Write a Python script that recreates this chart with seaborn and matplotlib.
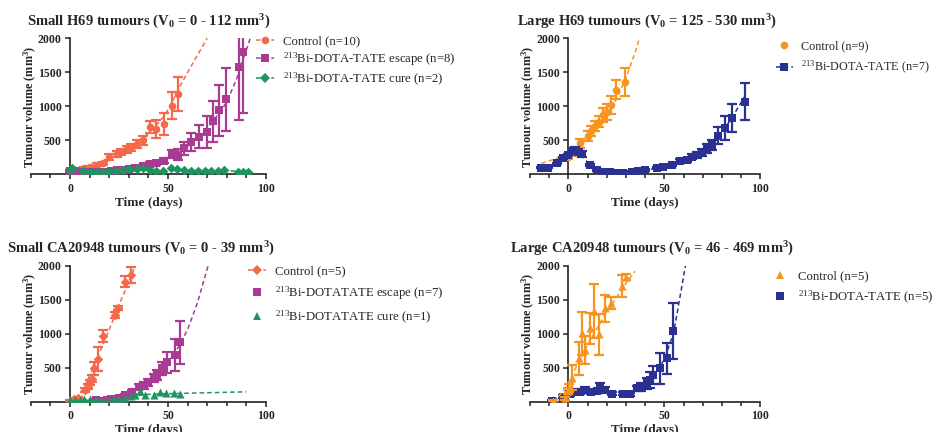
import numpy as np
import matplotlib
matplotlib.use("Agg")
import matplotlib.pyplot as plt
from matplotlib.lines import Line2D
from matplotlib.ticker import MultipleLocator
import seaborn as sns

sns.set_theme(style="ticks")
plt.rcParams["font.family"] = ["Liberation Serif", "DejaVu Serif"]
plt.rcParams["mathtext.fontset"] = "custom"
plt.rcParams["mathtext.rm"] = "Liberation Serif"
plt.rcParams["mathtext.it"] = "Liberation Serif:italic"
plt.rcParams["mathtext.bf"] = "Liberation Serif:bold"

# ---------------- colours ----------------
C_RED = "#F26A4B"
C_MAG = "#A93C92"
C_GRN = "#1F9461"
C_ORA = "#F7941D"
C_NAV = "#2B3192"

# ---------------- Panel 1: Small H69 ----------------
p1_ctrl_days = [0, 3, 7, 10, 14, 17, 20, 24, 26, 29, 31, 34, 37, 41, 44, 48, 52, 55]
p1_ctrl_vals = [60, 70, 90, 110, 140, 160, 255, 300, 330, 365, 400, 450, 500, 700, 670, 740, 1010, 1180]
p1_ctrl_sem = [10, 10, 15, 15, 20, 25, 45, 40, 40, 45, 50, 60, 70, 90, 135, 160, 195, 245]
p1_ctrl_fit_days = [0, 10, 20, 30, 40, 48, 52, 56, 63, 70]
p1_ctrl_fit_vals = [55, 100, 210, 380, 600, 850, 1050, 1290, 1650, 2000]

p1_esc_days = [0, 3, 6, 9, 12, 15, 18, 21, 24, 27, 30, 33, 37, 41, 44, 48, 52, 55, 58, 62, 66, 70, 73, 76, 79.5, 86.4, 88.5]
p1_esc_vals = [50, 45, 40, 40, 35, 35, 40, 50, 60, 70, 85, 100, 120, 150, 170, 200, 300, 290, 380, 475, 550, 620, 780, 940, 1100, 1575, 1795]
p1_esc_sem = [10, 10, 10, 10, 10, 10, 10, 10, 10, 15, 15, 20, 20, 25, 30, 35, 60, 80, 100, 130, 170, 230, 300, 380, 470, 780, 900]
p1_esc_fit_days = [0, 20, 30, 40, 50, 60, 70, 80, 85, 92]
p1_esc_fit_vals = [45, 60, 95, 150, 250, 410, 660, 1060, 1400, 2000]

p1_cure_days = [0, 1, 6.5, 10, 13, 17, 20, 23.6, 27, 30, 34, 37, 40.6, 44, 47.5, 51.7, 54.8, 58, 61.6, 65.4, 68.8, 72, 75.3, 78.7, 86, 88.5, 91]
p1_cure_vals = [64, 95, 54, 40, 40, 40, 49, 54, 64, 74, 78, 88, 64, 54, 54, 88, 74, 64, 54, 54, 49, 54, 54, 64, 40, 40, 40]
p1_cure_fit_days = [0, 50, 92]
p1_cure_fit_vals = [60, 60, 45]

# ---------------- Panel 2: Large H69 ----------------
p2_ctrl_days = [0, 3, 6, 10, 12, 14, 16, 18, 20, 22, 25, 29.5]
p2_ctrl_vals = [250, 320, 455, 565, 640, 710, 775, 870, 920, 1020, 1240, 1360]
p2_ctrl_sem = [30, 40, 70, 70, 70, 80, 80, 100, 120, 130, 140, 210]
p2_ctrl_fit_days = [-14, -7, 0, 5, 10, 15, 20, 25, 30, 35, 37]
p2_ctrl_fit_vals = [160, 225, 300, 400, 525, 670, 860, 1100, 1415, 1810, 2000]

p2_trt_days = [-14, -10.4, -6, -2.6, 0, 1.7, 3.5, 5.2, 7, 11.3, 14.8, 18.2, 21.7, 25.2, 28.6, 33, 36.5, 40, 46, 49.5, 53.8, 58.2, 61.6, 64.2, 66.8, 69.4, 72, 74.7, 78, 81.6, 85, 92]
p2_trt_vals = [98, 98, 160, 235, 285, 350, 358, 333, 300, 137, 64, 40, 30, 25, 25, 40, 50, 64, 98, 113, 137, 200, 210, 260, 284, 318, 382, 431, 570, 680, 828, 1068]
p2_trt_sem = [10, 10, 10, 15, 20, 30, 40, 40, 40, 20, 10, 10, 5, 5, 5, 5, 10, 10, 10, 15, 15, 20, 25, 40, 40, 50, 70, 80, 130, 170, 210, 270]
p2_trt_fit_days = [-14, -10, -6, -2, 2, 5, 8, 11, 15, 20, 25, 30, 35, 40, 45, 50, 55, 60, 65, 70, 75, 80, 85, 92]
p2_trt_fit_vals = [95, 110, 150, 220, 330, 330, 250, 140, 65, 35, 25, 28, 40, 60, 85, 115, 160, 210, 270, 340, 450, 620, 820, 1150]

# ---------------- Panel 3: Small CA20948 ----------------
p3_ctrl_days = [0, 2.2, 4.3, 7.7, 9, 10.2, 11, 12, 14.2, 17, 22.7, 24.7, 28.2, 31.2]
p3_ctrl_vals = [15, 40, 60, 170, 220, 285, 340, 490, 627, 965, 1274, 1380, 1764, 1862]
p3_ctrl_sem = [5, 10, 15, 30, 40, 40, 50, 100, 180, 90, 50, 30, 80, 120]
p3_ctrl_fit_days = [0, 3, 6, 10, 15, 20, 25, 30, 33.3]
p3_ctrl_fit_vals = [0, 20, 150, 380, 720, 1060, 1420, 1770, 2000]

p3_esc_days = [13, 16, 19, 21, 25, 28, 31.6, 35, 37.5, 40, 42.7, 44.4, 47, 49.5, 53.8, 56.3]
p3_esc_vals = [20, 10, 20, 40, 60, 100, 140, 220, 235, 285, 343, 392, 490, 578, 686, 872]
p3_esc_sem = [5, 5, 5, 10, 15, 20, 30, 40, 50, 50, 60, 70, 100, 150, 230, 320]
p3_esc_fit_days = [10, 20, 25, 30, 35, 40, 45, 50, 55, 60, 65, 70.5]
p3_esc_fit_vals = [10, 30, 60, 110, 190, 290, 420, 580, 790, 1060, 1450, 2000]

p3_cure_days = [0, 2.5, 5, 7, 10, 13, 16, 19, 22, 25, 28, 31, 33, 35.8, 38.4, 42.7, 46, 49, 53, 56.3]
p3_cure_vals = [20, 25, 30, 40, 35, 20, 10, 15, 30, 40, 60, 80, 98, 160, 98, 98, 147, 132, 132, 113]
p3_cure_fit_days = [0, 15, 25, 33, 40, 48, 56, 70, 90]
p3_cure_fit_vals = [15, 25, 45, 85, 108, 118, 122, 132, 145]

# ---------------- Panel 4: Large CA20948 ----------------
p4_ctrl_days = [-7.8, -1.7, 0, 0.5, 1.7, 5.7, 6.9, 8.7, 11.3, 13.4, 16.1, 19, 22, 28.1, 30]
p4_ctrl_vals = [15, 49, 157, 206, 353, 637, 1005, 760, 1078, 1333, 990, 1372, 1455, 1705, 1833]
p4_ctrl_sem = [5, 20, 40, 60, 180, 240, 315, 200, 230, 400, 300, 195, 85, 160, 40]
p4_ctrl_fit_days = [-8, -3, 0, 5, 10, 15, 20, 25, 30, 34.7]
p4_ctrl_fit_vals = [0, 140, 280, 560, 830, 1080, 1320, 1530, 1740, 1920]

p4_trt_days = [-8.7, -2.6, 0.9, 3.5, 6, 8.7, 12, 14.8, 16.5, 19, 22.6, 28.6, 32, 35.6, 38, 40.8, 42.5, 44, 47.7, 51.2, 54.7]
p4_trt_vals = [15, 75, 120, 147, 147, 170, 147, 157, 220, 170, 120, 120, 108, 196, 220, 270, 318, 392, 490, 637, 1044]
p4_trt_sem = [5, 20, 40, 40, 30, 40, 30, 30, 60, 40, 20, 20, 20, 40, 60, 80, 120, 130, 230, 230, 410]
p4_trt_fit_days = [-8, -3, 0, 5, 10, 20, 30, 35, 40, 45, 50, 54.7, 57, 61]
p4_trt_fit_vals = [20, 80, 120, 150, 155, 150, 130, 170, 260, 400, 620, 1000, 1350, 2000]

# ---------------- text ----------------
titles = [
    r"Small H69 tumours (V$_\mathbf{0}$ = 0 - 112 mm$^\mathbf{3}$)",
    r"Large H69 tumours (V$_\mathbf{0}$ = 125 - 530 mm$^\mathbf{3}$)",
    r"Small CA20948 tumours (V$_\mathbf{0}$ = 0 - 39 mm$^\mathbf{3}$)",
    r"Large CA20948 tumours (V$_\mathbf{0}$ = 46 - 469 mm$^\mathbf{3}$)",
]
xlabel = "Time (days)"
ylabel = r"Tumour volume (mm$^\mathbf{3}$)"

W, H = 936, 432
fig = plt.figure(figsize=(W / 100, H / 100), dpi=100)

def px_axes(left, top, right, bottom):
    return fig.add_axes([left / W, 1 - bottom / H, (right - left) / W, (bottom - top) / H])

axes = [
    px_axes(30.9, 38.3, 265.9, 174.3),
    px_axes(529.9, 38.3, 760.3, 174.3),
    px_axes(30.9, 265.7, 265.9, 401.7),
    px_axes(529.9, 265.7, 760.3, 401.7),
]

DASH = (0, (3, 2))

def draw_series(ax, days, vals, sem, fit_d, fit_v, color, marker, size, z):
    if fit_d is not None:
        sns.lineplot(x=fit_d, y=fit_v, ax=ax, color=color, lw=1.1, linestyle=DASH,
                     estimator=None, sort=False, zorder=z)
    if sem is not None:
        ax.errorbar(days, vals, yerr=sem, fmt="none", ecolor=color, elinewidth=1.6,
                    capsize=3.5, capthick=1.6, zorder=z + 0.1)
    sns.scatterplot(x=days, y=vals, ax=ax, color=color, marker=marker, s=size,
                    edgecolor=color, linewidth=0, zorder=z + 0.2)

def style_axes(ax, title, title_x):
    ax.set_xlim(-20, 100)
    ax.set_ylim(0, 2000)
    ax.spines["left"].set_position(("data", 0))
    ax.spines["top"].set_visible(False)
    ax.spines["right"].set_visible(False)
    for s in ("left", "bottom"):
        ax.spines[s].set_linewidth(1.2)
        ax.spines[s].set_color("#222222")
    ax.set_xticks([0, 50, 100])
    ax.xaxis.set_minor_locator(MultipleLocator(10))
    ax.set_yticks([500, 1000, 1500, 2000])
    ax.tick_params(axis="both", which="major", direction="out", length=3.5, width=1.1,
                   labelsize=8.5, color="#222222", pad=2.5)
    ax.tick_params(axis="x", which="minor", direction="out", length=3, width=1.1, color="#222222")
    for lbl in ax.get_xticklabels() + ax.get_yticklabels():
        lbl.set_fontweight("bold")
    ax.set_xlabel(xlabel, fontsize=9.5, fontweight="bold", labelpad=1.5)
    ax.set_ylabel(ylabel, fontsize=8.8, fontweight="bold", labelpad=-1)
    ax.set_title(title, fontsize=10.5, fontweight="bold", pad=9, x=title_x)
    ax.grid(False)

def legend(ax, handles, labels, left_px, top_px, spacing, size=9.2):
    ax.legend(handles, labels, loc="upper left",
              bbox_to_anchor=(left_px / W, 1 - top_px / H), bbox_transform=fig.transFigure,
              frameon=False, handlelength=1.4, handletextpad=0.7, borderaxespad=0,
              borderpad=0, labelspacing=spacing, prop={"size": size, "weight": "normal"})

def h(color, marker, ms, line=True):
    return Line2D([0], [0], color=color, marker=marker, markersize=ms, markeredgewidth=0,
                  linestyle=DASH if line else "none", lw=1.1)

# Panel 1
ax = axes[0]
draw_series(ax, p1_ctrl_days, p1_ctrl_vals, p1_ctrl_sem, p1_ctrl_fit_days, p1_ctrl_fit_vals, C_RED, "o", 30, 3)
draw_series(ax, p1_esc_days, p1_esc_vals, p1_esc_sem, p1_esc_fit_days, p1_esc_fit_vals, C_MAG, "s", 34, 4)
draw_series(ax, p1_cure_days, p1_cure_vals, None, p1_cure_fit_days, p1_cure_fit_vals, C_GRN, "D", 24, 5)
style_axes(ax, titles[0], 0.5)
legend(ax, [h(C_RED, "o", 5.5), h(C_MAG, "s", 6), h(C_GRN, "D", 5)],
       ["Control (n=10)", r"$^{213}$Bi-DOTA-TATE escape (n=8)", r"$^{213}$Bi-DOTA-TATE cure (n=2)"],
       255.8, 35, 0.25)

# Panel 2
ax = axes[1]
draw_series(ax, p2_ctrl_days, p2_ctrl_vals, p2_ctrl_sem, p2_ctrl_fit_days, p2_ctrl_fit_vals, C_ORA, "o", 30, 3)
draw_series(ax, p2_trt_days, p2_trt_vals, p2_trt_sem, p2_trt_fit_days, p2_trt_fit_vals, C_NAV, "s", 34, 4)
style_axes(ax, titles[1], 0.506)
legend(ax, [h(C_ORA, "o", 5.5, False), h(C_NAV, "s", 6)],
       ["Control (n=9)", r"$^{213}$Bi-DOTA-TATE (n=7)"], 776, 40, 0.6, size=8.7)

# Panel 3
ax = axes[2]
draw_series(ax, p3_ctrl_days, p3_ctrl_vals, p3_ctrl_sem, p3_ctrl_fit_days, p3_ctrl_fit_vals, C_RED, "D", 24, 3)
draw_series(ax, p3_esc_days, p3_esc_vals, p3_esc_sem, p3_esc_fit_days, p3_esc_fit_vals, C_MAG, "s", 34, 4)
draw_series(ax, p3_cure_days, p3_cure_vals, None, p3_cure_fit_days, p3_cure_fit_vals, C_GRN, "^", 34, 5)
style_axes(ax, titles[2], 0.47)
legend(ax, [h(C_RED, "D", 5), h(C_MAG, "s", 6, False), h(C_GRN, "^", 6, False)],
       ["Control (n=5)", r"$^{213}$Bi-DOTATATE escape (n=7)", r"$^{213}$Bi-DOTATATE cure (n=1)"],
       248, 265, 0.55)

# Panel 4
ax = axes[3]
draw_series(ax, p4_ctrl_days, p4_ctrl_vals, p4_ctrl_sem, p4_ctrl_fit_days, p4_ctrl_fit_vals, C_ORA, "^", 34, 4)
draw_series(ax, p4_trt_days, p4_trt_vals, p4_trt_sem, p4_trt_fit_days, p4_trt_fit_vals, C_NAV, "s", 34, 3)
style_axes(ax, titles[3], 0.532)
legend(ax, [h(C_ORA, "^", 6, False), h(C_NAV, "s", 6, False)],
       ["Control (n=5)", r"$^{213}$Bi-DOTA-TATE (n=5)"], 771, 270, 0.55)

fig.savefig("out.png", dpi=100)
